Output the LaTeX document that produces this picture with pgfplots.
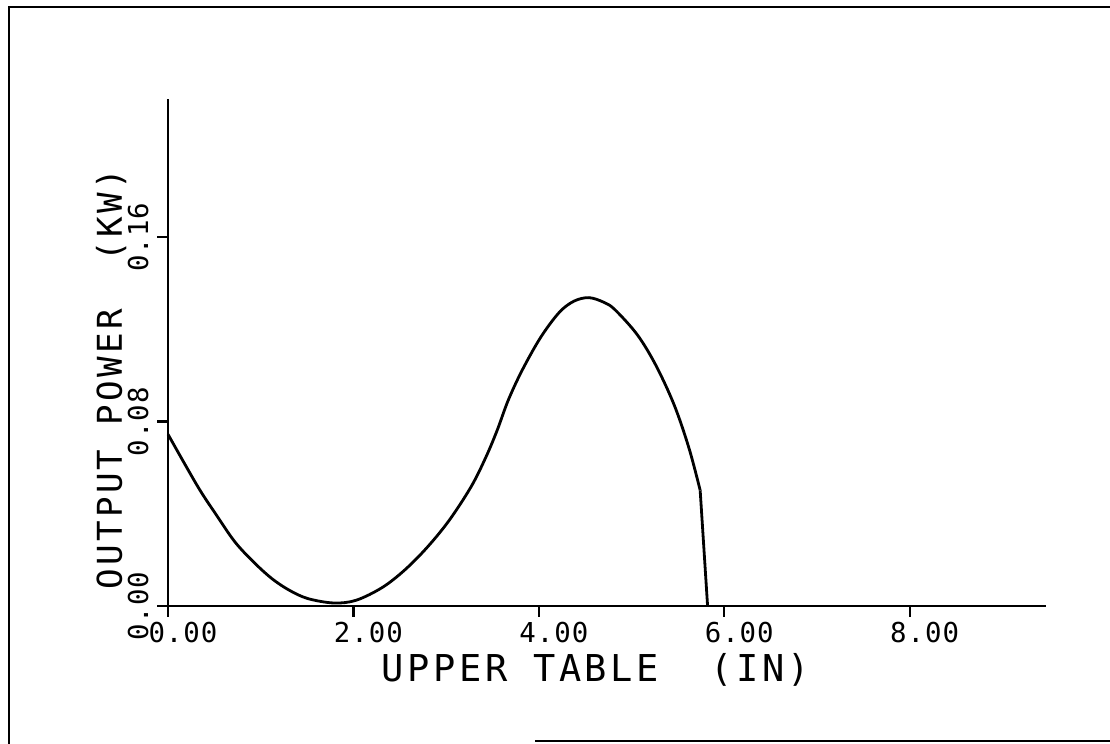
\documentclass[border=0pt]{standalone}
\usepackage{fontspec}
\usepackage{pgfplots}
\pgfplotsset{compat=1.18}
\setmainfont{DejaVu Sans}
\newfontfamily\tickfont[LetterSpace=3.6]{DejaVu Sans Mono}
\newfontfamily\labfont[LetterSpace=9.6]{DejaVu Sans Mono}
\newfontfamily\ylabfont[LetterSpace=9.7]{DejaVu Sans Mono}
\begin{document}
\begin{tikzpicture}
\useasboundingbox (0,0) rectangle (555pt,372pt);
\begin{axis}[
  at={(84pt,69pt)}, anchor=south west,
  scale only axis, width=439pt, height=253.5pt,
  xmin=0, xmax=9.47, ymin=0, ymax=0.22,
  axis lines=left, axis line style={line width=1.2pt,-},
  xtick={0,2,4,6,8}, xticklabels={0.00,2.00,4.00,6.00,8.00},
  ytick={0,0.08,0.16}, yticklabels={0.00,0.08,0.16},
  tick align=outside, major tick length=5.5pt,
  tick style={line width=1.2pt, black},
  xticklabel shift=2.5pt, yticklabel shift=4pt,
  xticklabel style={font=\fontsize{13.7}{14}\tickfont, anchor=north, inner sep=0pt, xshift=7.5pt},
  yticklabel style={font=\fontsize{13.7}{14}\tickfont, rotate=90, anchor=south, inner sep=0pt},
  xlabel={UPPER TABLE\ \ (IN)}, ylabel={OUTPUT POWER\ \ (KW)},
  xlabel style={at={([yshift=-38pt]axis description cs:0.4875,0)}, anchor=base, inner sep=0pt, font=\fontsize{18.5}{19}\labfont},
  ylabel style={at={([xshift=-23pt]axis description cs:0,0.447)}, rotate=0, anchor=base, inner sep=0pt, font=\fontsize{17.1}{18}\ylabfont},
  clip=false,
]
\addplot[line width=1.4pt, smooth, tension=0.55] coordinates {
(0,0.0745) (0.32,0.0519) (0.52,0.0396) (0.72,0.0279) (0.92,0.0192)
(1.12,0.0119) (1.31,0.0068) (1.51,0.0032) (1.79,0.0013) (2.03,0.0025)
(2.31,0.0080) (2.55,0.0155) (2.79,0.0252) (3.03,0.0370) (3.27,0.0518)
(3.43,0.0647) (3.55,0.0762) (3.67,0.0893) (3.82,0.1023) (4.02,0.1166)
(4.22,0.1274) (4.38,0.1323) (4.54,0.1338) (4.70,0.1318) (4.82,0.1286)
(5.06,0.1178) (5.26,0.1046) (5.46,0.0872) (5.62,0.0684) (5.74,0.0502)
};
\addplot[line width=1.4pt] coordinates {(5.74,0.0502) (5.82,0)};
\end{axis}
\draw[line width=1pt] (4.5pt,0) -- (4.5pt,368.5pt) -- (555pt,368.5pt);
\draw[line width=1pt] (267.5pt,1.5pt) -- (555pt,1.5pt);
\end{tikzpicture}
\end{document}
